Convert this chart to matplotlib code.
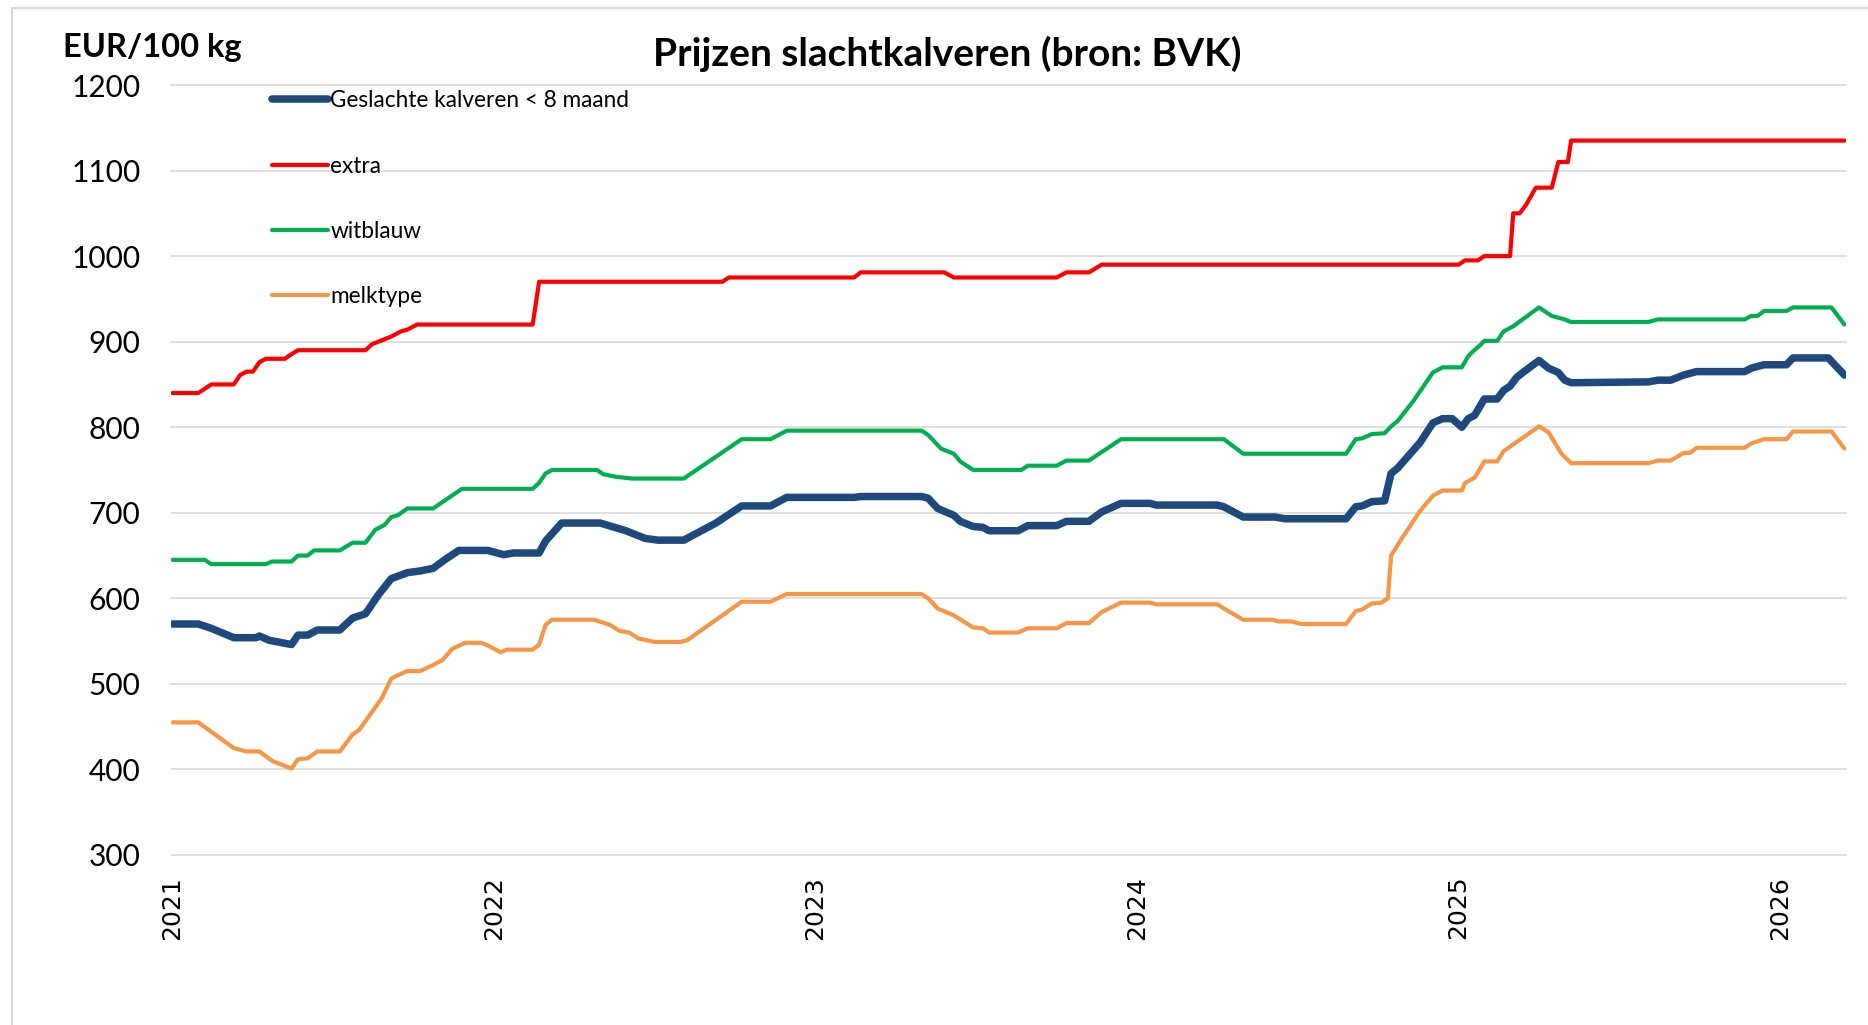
import matplotlib
matplotlib.use("Agg")
import matplotlib.pyplot as plt
import matplotlib.patches as mpatches

# polyline vertices, x in decimal years
blue_x = [2021.00, 2021.08, 2021.12, 2021.19, 2021.26, 2021.27, 2021.30, 2021.37, 2021.39, 2021.42,
          2021.45, 2021.52, 2021.56, 2021.60, 2021.64, 2021.68, 2021.73, 2021.77, 2021.81, 2021.85,
          2021.89, 2021.98, 2022.03, 2022.06, 2022.14, 2022.16, 2022.21, 2022.30, 2022.33, 2022.41,
          2022.47, 2022.51, 2022.59, 2022.69, 2022.77, 2022.86, 2022.91, 2023.12, 2023.14, 2023.33,
          2023.35, 2023.38, 2023.43, 2023.45, 2023.49, 2023.52, 2023.54, 2023.63, 2023.66, 2023.75,
          2023.78, 2023.85, 2023.89, 2023.95, 2024.04, 2024.06, 2024.25, 2024.27, 2024.33, 2024.43,
          2024.46, 2024.65, 2024.68, 2024.70, 2024.73, 2024.77, 2024.79, 2024.81, 2024.88, 2024.92,
          2024.95, 2024.98, 2025.01, 2025.03, 2025.05, 2025.08, 2025.12, 2025.14, 2025.16, 2025.18,
          2025.20, 2025.25, 2025.28, 2025.31, 2025.33, 2025.35, 2025.59, 2025.62, 2025.66, 2025.70,
          2025.74, 2025.89, 2025.91, 2025.95, 2026.02, 2026.04, 2026.15, 2026.20]
blue_y = [570, 570, 565, 554, 554, 556, 551, 546, 557, 557,
          563, 563, 577, 582, 604, 623, 630, 632, 635, 646,
          656, 656, 651, 653, 653, 667, 688, 688, 688, 679,
          670, 668, 668, 688, 708, 708, 718, 718, 719, 719,
          717, 705, 697, 690, 684, 683, 679, 679, 685, 685,
          690, 690, 701, 711, 711, 709, 709, 707, 695, 695,
          693, 693, 707, 708, 713, 714, 746, 752, 782, 805,
          810, 810, 800, 810, 814, 833, 833, 843, 848, 858,
          864, 878, 869, 864, 855, 852, 853, 855, 855, 861,
          865, 865, 869, 873, 873, 881, 881, 861]

red_x = [2021.00, 2021.08, 2021.12, 2021.19, 2021.21, 2021.23, 2021.25, 2021.27, 2021.29, 2021.35,
         2021.36, 2021.39, 2021.60, 2021.62, 2021.64, 2021.66, 2021.68, 2021.71, 2021.73, 2021.76,
         2022.12, 2022.14, 2022.71, 2022.73, 2023.12, 2023.14, 2023.40, 2023.43, 2023.75, 2023.78,
         2023.85, 2023.89, 2025.00, 2025.02, 2025.06, 2025.08, 2025.16, 2025.17, 2025.19, 2025.21,
         2025.24, 2025.29, 2025.31, 2025.34, 2025.35, 2026.20]
red_y = [840, 840, 850, 850, 861, 865, 865, 876, 880, 880,
         883, 890, 890, 897, 900, 903, 906, 912, 914, 920,
         920, 970, 970, 975, 975, 981, 981, 975, 975, 981,
         981, 990, 990, 995, 995, 1000, 1000, 1050, 1050, 1060,
         1080, 1080, 1110, 1110, 1135, 1135]

green_x = [2021.00, 2021.10, 2021.12, 2021.29, 2021.31, 2021.37, 2021.39, 2021.42, 2021.44, 2021.52,
           2021.56, 2021.60, 2021.63, 2021.66, 2021.68, 2021.70, 2021.73, 2021.81, 2021.90, 2022.12,
           2022.14, 2022.16, 2022.18, 2022.32, 2022.34, 2022.38, 2022.43, 2022.59, 2022.77, 2022.86,
           2022.91, 2023.33, 2023.35, 2023.39, 2023.43, 2023.45, 2023.49, 2023.64, 2023.66, 2023.75,
           2023.78, 2023.85, 2023.95, 2024.27, 2024.33, 2024.65, 2024.68, 2024.70, 2024.73, 2024.77,
           2024.79, 2024.81, 2024.86, 2024.92, 2024.95, 2025.01, 2025.03, 2025.04, 2025.07, 2025.08,
           2025.12, 2025.14, 2025.17, 2025.25, 2025.29, 2025.33, 2025.35, 2025.59, 2025.62, 2025.89,
           2025.91, 2025.93, 2025.95, 2026.02, 2026.04, 2026.16, 2026.20]
green_y = [645, 645, 640, 640, 643, 643, 650, 650, 656, 656,
           665, 665, 680, 686, 695, 697, 705, 705, 728, 728,
           735, 746, 750, 750, 745, 742, 740, 740, 786, 786,
           796, 796, 791, 775, 769, 760, 750, 750, 755, 755,
           761, 761, 786, 786, 769, 769, 786, 787, 792, 793,
           801, 807, 831, 864, 870, 870, 883, 887, 897, 901,
           901, 912, 918, 940, 930, 926, 923, 923, 926, 926,
           930, 930, 936, 936, 940, 940, 920]

orange_x = [2021.00, 2021.08, 2021.19, 2021.23, 2021.27, 2021.31, 2021.37, 2021.39, 2021.42, 2021.45,
            2021.52, 2021.56, 2021.58, 2021.65, 2021.68, 2021.70, 2021.73, 2021.77, 2021.81, 2021.84,
            2021.87, 2021.91, 2021.96, 2021.98, 2022.02, 2022.04, 2022.12, 2022.14, 2022.16, 2022.18,
            2022.31, 2022.36, 2022.39, 2022.42, 2022.45, 2022.50, 2022.58, 2022.60, 2022.77, 2022.86,
            2022.91, 2023.33, 2023.35, 2023.38, 2023.43, 2023.49, 2023.52, 2023.54, 2023.63, 2023.66,
            2023.75, 2023.78, 2023.85, 2023.89, 2023.95, 2024.04, 2024.06, 2024.25, 2024.27, 2024.33,
            2024.42, 2024.44, 2024.48, 2024.51, 2024.65, 2024.68, 2024.70, 2024.73, 2024.76, 2024.78,
            2024.79, 2024.82, 2024.88, 2024.92, 2024.95, 2025.01, 2025.02, 2025.05, 2025.08, 2025.12,
            2025.14, 2025.25, 2025.28, 2025.32, 2025.35, 2025.59, 2025.62, 2025.66, 2025.70, 2025.72,
            2025.74, 2025.89, 2025.91, 2025.95, 2026.02, 2026.04, 2026.16, 2026.20]
orange_y = [455, 455, 425, 421, 421, 410, 401, 412, 413, 421,
            421, 441, 446, 483, 506, 510, 515, 515, 522, 528,
            541, 548, 548, 545, 537, 540, 540, 546, 569, 575,
            575, 569, 562, 560, 553, 549, 549, 551, 596, 596,
            605, 605, 600, 588, 580, 566, 565, 560, 560, 565,
            565, 571, 571, 584, 595, 595, 593, 593, 588, 575,
            575, 573, 573, 570, 570, 585, 587, 594, 595, 600,
            650, 668, 702, 720, 726, 726, 735, 741, 760, 760,
            772, 801, 794, 769, 758, 758, 761, 761, 770, 770,
            776, 776, 781, 786, 786, 795, 795, 775]

labels = ["Geslachte kalveren < 8 maand", "extra", "witblauw", "melktype"]
year_ticks = [2021, 2022, 2023, 2024, 2025, 2026]
y_ticks = [300, 400, 500, 600, 700, 800, 900, 1000, 1100, 1200]

W, H = 1868, 1025
fig = plt.figure(figsize=(W / 100, H / 100), dpi=100)
ax = fig.add_axes([171 / W, 1 - 855 / H, (1846 - 171) / W, (855 - 85) / H])

series = [
    (blue_x, blue_y, "#1F497D", 5.4),
    (red_x, red_y, "#FF0000", 3.0),
    (green_x, green_y, "#00B050", 3.0),
    (orange_x, orange_y, "#F79646", 3.0),
]
handles = []
for (xs, ys, col, lw), lab in zip(series, labels):
    h, = ax.plot(xs, ys, color=col, lw=lw, solid_joinstyle="round",
                 solid_capstyle="round", label=lab, zorder=3)
    handles.append(h)

ax.set_xlim(2020.995, 2026.205)
ax.set_ylim(300, 1200)
ax.set_yticks(y_ticks)
ax.set_xticks(year_ticks)
ax.set_xticklabels([str(y) for y in year_ticks], rotation=90,
                   fontfamily="DejaVu Sans", fontsize=18)
ax.set_yticklabels([str(v) for v in y_ticks], fontfamily="Lato", fontsize=21.5)
ax.tick_params(axis="both", length=0)
ax.tick_params(axis="y", pad=22)
ax.tick_params(axis="x", pad=15)
ax.grid(axis="y", color="#d9d9d9", lw=1.2, zorder=0)
ax.grid(axis="x", visible=False)
for gl in ax.get_ygridlines():
    gl.set_clip_on(False)
for s in ax.spines.values():
    s.set_visible(False)

leg = ax.legend(handles=handles, loc="upper left", bbox_to_anchor=(0.060, 0.993),
                frameon=False, borderpad=0, borderaxespad=0, handlelength=2.5,
                handletextpad=0.1, labelspacing=1.95,
                prop={"family": "Lato", "size": 16.3})

fig.text(947 / W, 1 - 54 / H, "Prijzen slachtkalveren (bron: BVK)", ha="center",
         va="center", fontfamily="Lato", fontweight="bold", fontsize=28)
fig.text(63 / W, 1 - 48 / H, "EUR/100 kg", ha="left", va="center",
         fontfamily="Lato", fontweight="bold", fontsize=23.5)

fig.add_artist(mpatches.Rectangle((12 / W, -0.1), 1.2, 1 - 8 / H + 0.1,
                                  transform=fig.transFigure, fill=False,
                                  edgecolor="#d9d9d9", lw=1.5))

fig.savefig("out.png", dpi=100)
